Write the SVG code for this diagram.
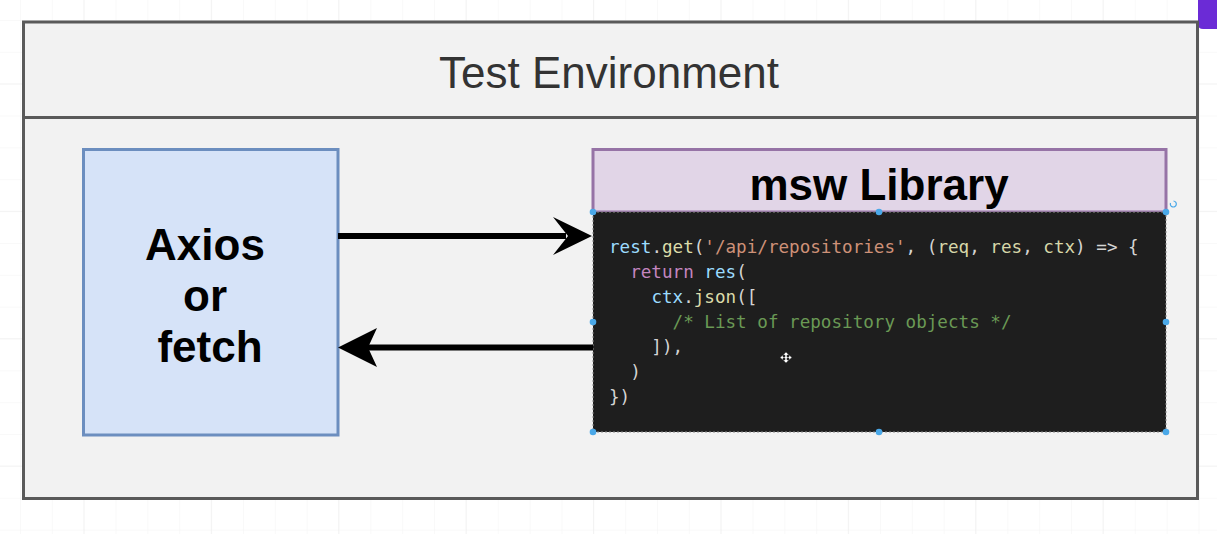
<svg xmlns="http://www.w3.org/2000/svg" width="1217" height="534" viewBox="0 0 1217 534">
  <style>
    .title { font-family: "Liberation Sans", Arial, sans-serif; font-size: 44px; fill: #333333; }
    .bold { font-family: "Liberation Sans", Arial, sans-serif; font-size: 44px; font-weight: bold; fill: #000000; }
    .code { font-family: "DejaVu Sans Mono", "Liberation Mono", monospace; font-size: 17.6px; fill: #d4d4d4; white-space: pre; }
    .kw { fill: #c586c0; }
    .var { fill: #9cdcfe; }
    .fn { fill: #dcdcaa; }
    .str { fill: #ce9178; }
    .par { fill: #d7d7a9; }
    .cm { fill: #6a9955; }
    .handle { fill: #4aa8e8; }
    .conn { stroke: #000000; stroke-width: 6; fill: none; }
  </style>
  <defs>
    <pattern id="gridMinor" x="20" y="20" width="31.85" height="31.85" patternUnits="userSpaceOnUse">
      <path d="M0 0 H31.85 M0 0 V31.85" stroke="#f3f3f3" stroke-width="1" fill="none"/>
    </pattern>
    <pattern id="gridMajor" x="83.4" y="83.4" width="127.4" height="127.4" patternUnits="userSpaceOnUse">
      <path d="M0 0 H127.4 M0 0 V127.4" stroke="#ebebeb" stroke-width="1" fill="none"/>
    </pattern>
  </defs>

  <rect x="0" y="0" width="1217" height="534" fill="#ffffff"/>
  <rect x="0" y="0" width="1217" height="534" fill="url(#gridMinor)"/>
  <rect x="0" y="0" width="1217" height="534" fill="url(#gridMajor)"/>

  <!-- purple corner tab -->
  <path d="M1198 0 H1217 V29 H1203 Q1198 29 1198 24 Z" fill="#6b2bd6"/>

  <g id="test-environment">
    <rect x="23.5" y="22" width="1174" height="476.5" fill="#f2f2f2" stroke="#5a5a5a" stroke-width="3"/>
    <line x1="23.5" y1="117.5" x2="1197.5" y2="117.5" stroke="#5a5a5a" stroke-width="3"/>
    <text class="title" x="609" y="88" text-anchor="middle">Test Environment</text>
  </g>

  <g id="axios">
    <rect x="83.5" y="149.5" width="254.5" height="285.5" fill="#d6e3f8" stroke="#6c8ebf" stroke-width="3"/>
    <text class="bold" x="205" y="260" text-anchor="middle">Axios</text>
    <text class="bold" x="205" y="311" text-anchor="middle">or</text>
    <text class="bold" x="210" y="362" text-anchor="middle">fetch</text>
  </g>

  <g id="msw-library">
    <rect x="593" y="149.5" width="573" height="62.5" fill="#e1d5e7" stroke="#9673a6" stroke-width="3"/>
    <text class="bold" x="879" y="200" text-anchor="middle">msw Library</text>
  </g>

  <g id="code">
    <rect x="593" y="212" width="573" height="220" fill="#1e1e1e" stroke="#8a8a8a" stroke-width="1" stroke-dasharray="2 2"/>
    <text class="code" x="609" y="253"><tspan class="var">rest</tspan>.<tspan class="fn">get</tspan>(<tspan class="str">'/api/repositories'</tspan>, (<tspan class="par">req</tspan>, <tspan class="par">res</tspan>, <tspan class="par">ctx</tspan>) =&gt; {</text>
    <text class="code" x="609" y="278">  <tspan class="kw">return</tspan> <tspan class="var">res</tspan>(</text>
    <text class="code" x="609" y="303">    <tspan class="var">ctx</tspan>.<tspan class="fn">json</tspan>([</text>
    <text class="code" x="609" y="328">      <tspan class="cm">/* List of repository objects */</tspan></text>
    <text class="code" x="609" y="353">    ]),</text>
    <text class="code" x="609" y="378">  )</text>
    <text class="code" x="609" y="403">})</text>
    <!-- selection handles -->
    <circle class="handle" cx="593" cy="212" r="3.3"/>
    <circle class="handle" cx="879" cy="212" r="3.3"/>
    <circle class="handle" cx="1166" cy="212" r="3.3"/>
    <circle class="handle" cx="593" cy="322" r="3.3"/>
    <circle class="handle" cx="1166" cy="322" r="3.3"/>
    <circle class="handle" cx="593" cy="432" r="3.3"/>
    <circle class="handle" cx="879" cy="432" r="3.3"/>
    <circle class="handle" cx="1166" cy="432" r="3.3"/>
    <path d="M1170.5 203 A3 3 0 1 0 1173.5 201" fill="none" stroke="#4aa8e8" stroke-width="1.2"/>
    <!-- move cursor -->
    <path d="M786 352 L789 355 H787 V357 H789 V355 L792 357.5 L789 360 V358 H787 V360 H789 L786 363 L783 360 H785 V358 H783 V360 L780 357.5 L783 355 V357 H785 V355 H783 Z" fill="#ffffff" stroke="#333333" stroke-width="0.5"/>
  </g>

  <g id="connectors">
    <line class="conn" x1="338" y1="236" x2="566" y2="236"/>
    <path d="M592 236 L553 217 L568 236 L553 255 Z" fill="#000000"/>
    <line class="conn" x1="593" y1="347.5" x2="365" y2="347.5"/>
    <path d="M338 347.5 L377 328 L368 347.5 L377 367 Z" fill="#000000"/>
  </g>
</svg>
